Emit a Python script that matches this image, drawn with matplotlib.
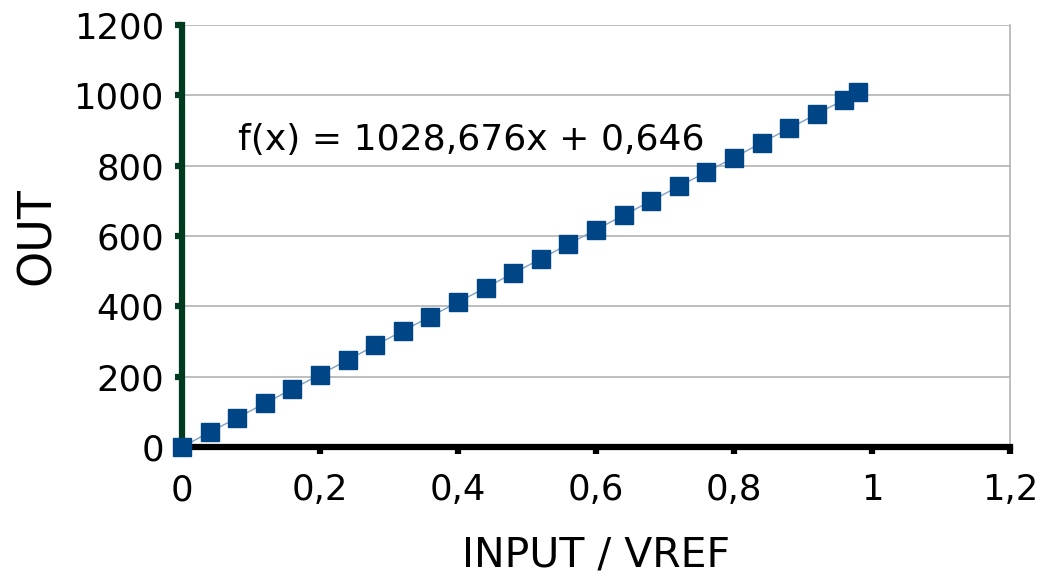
import matplotlib
matplotlib.use("Agg")
import matplotlib.pyplot as plt

# values
x_ratio = [0, 0.04, 0.08, 0.12, 0.16, 0.20, 0.24, 0.28, 0.32, 0.36, 0.40, 0.44, 0.48,
           0.52, 0.56, 0.60, 0.64, 0.68, 0.72, 0.76, 0.80, 0.84, 0.88, 0.92, 0.96, 0.98]
out_vals = [0, 42, 83, 124, 165, 206, 247, 289, 330, 371, 412, 453, 494,
            535, 577, 618, 659, 700, 741, 782, 823, 865, 906, 947, 988, 1009]

x_ticks = [0, 0.2, 0.4, 0.6, 0.8, 1.0, 1.2]
x_tick_labels = ["0", "0,2", "0,4", "0,6", "0,8", "1", "1,2"]
y_ticks = [0, 200, 400, 600, 800, 1000, 1200]
y_tick_labels = ["0", "200", "400", "600", "800", "1000", "1200"]
equation = "f(x) = 1028,676x + 0,646"

plt.rcParams["font.family"] = ["DejaVu Sans"]

fig = plt.figure(figsize=(10.43, 5.77), dpi=100)
ax = fig.add_axes([0.1745, 0.2253, 0.7939, 0.7314])

ax.plot(x_ratio, out_vals, color="#7f9fc4", linewidth=1, zorder=2)
ax.plot(x_ratio, out_vals, linestyle="none", marker="s", markersize=12.5,
        color="#004586", markeredgecolor="#004586", zorder=3, clip_on=False)

ax.set_xlim(0, 1.2)
ax.set_ylim(0, 1200)
ax.set_xticks(x_ticks)
ax.set_xticklabels(x_tick_labels)
ax.set_yticks(y_ticks)
ax.set_yticklabels(y_tick_labels)

ax.grid(axis="y", color="#b3b3b3", linewidth=1.2)
ax.set_axisbelow(True)

ax.spines["top"].set_visible(False)
ax.spines["right"].set_color("#b3b3b3")
ax.spines["right"].set_linewidth(1.2)
ax.spines["left"].set_color("#003a1f")
ax.spines["left"].set_linewidth(4.5)
ax.spines["bottom"].set_color("black")
ax.spines["bottom"].set_linewidth(4.5)

ax.tick_params(axis="x", direction="out", length=5, width=4.5, color="black",
               labelsize=25.5, pad=14)
ax.tick_params(axis="y", direction="out", length=5, width=4.5, color="#003a1f",
               labelsize=25.5, pad=8)

ax.set_xlabel("INPUT / VREF", fontsize=29.5, labelpad=20)
ax.set_ylabel("OUT", fontsize=33, labelpad=10)

ax.text(0.081, 873, equation, fontsize=26, ha="left", va="center")

fig.savefig("out.png", dpi=100)
